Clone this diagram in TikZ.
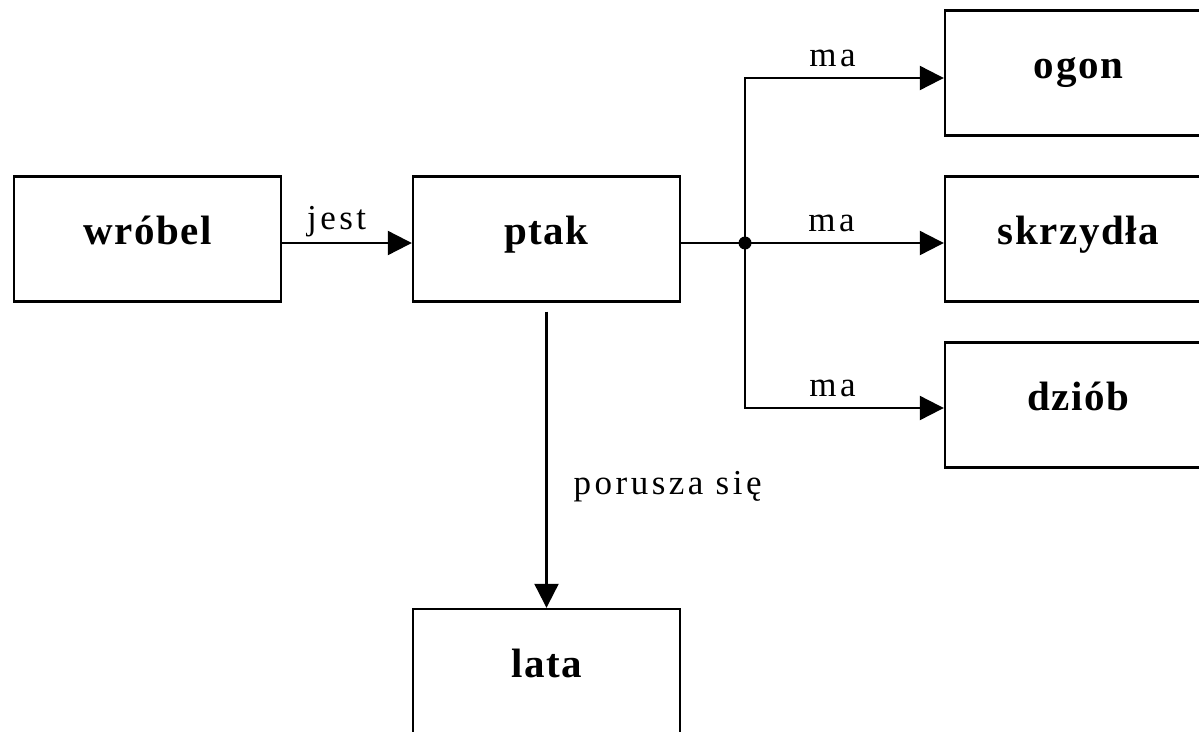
\documentclass[tikz,border=0pt]{standalone}
\usepackage{fontspec}
\setmainfont{Liberation Serif}
\newfontfamily\boxfont[LetterSpace=4]{Liberation Serif}
\newfontfamily\lblfont[LetterSpace=10]{Liberation Serif}
\usetikzlibrary{arrows.meta}
\begin{document}
\begin{tikzpicture}[x=1pt,y=-1pt,
  box/.style={draw, line width=2.4pt, minimum width=267pt, minimum height=125pt, inner sep=0pt,
    text height=21pt, text depth=10pt,
    font=\boxfont\bfseries\fontsize{41}{49}\selectfont},
  conn/.style={line width=2.2pt},
  arr/.style={conn, -{Triangle[length=24pt,width=24pt]}},
  lbl/.style={font=\lblfont\fontsize{35}{42}\selectfont, inner sep=0pt, anchor=base}]
\useasboundingbox (0,0) rectangle (1199,731);
\clip (0,0) rectangle (1199,731);
\fill[white] (0,0) rectangle (1199,731);
\node[box] (wrobel) at (147.5,239) {wróbel};
\node[box] (ptak) at (546.5,239) {ptak};
\node[box] (ogon) at (1078.5,73) {ogon};
\node[box] (skrzydla) at (1078.5,239) {skrzydła};
\node[box] (dziob) at (1078.5,405) {dziób};
\node[box] (lata) at (546.5,671.5) {lata};
\coordinate (j) at (745,243);
\draw[arr] ([yshift=-4pt]wrobel.east) -- node[lbl, pos=0.42, yshift=14pt] {jest} ([yshift=-4pt]ptak.west);
\draw[conn] ([yshift=-4pt]ptak.east) -- (j);
\draw[arr] (j) |- node[lbl, pos=0.72, yshift=12pt] {ma} ([yshift=-5pt]ogon.west);
\draw[arr] (j) -- node[lbl, pos=0.435, yshift=12pt] {ma} ([yshift=-4pt]skrzydla.west);
\draw[arr] (j) |- node[lbl, pos=0.72, yshift=12pt] {ma} ([yshift=-3pt]dziob.west);
\fill (j) circle (6.5pt);
\draw[arr, shorten <=9pt] (ptak.south) -- node[lbl, pos=0.63, anchor=base west, xshift=26pt] {porusza się} (lata.north);
\end{tikzpicture}
\end{document}
